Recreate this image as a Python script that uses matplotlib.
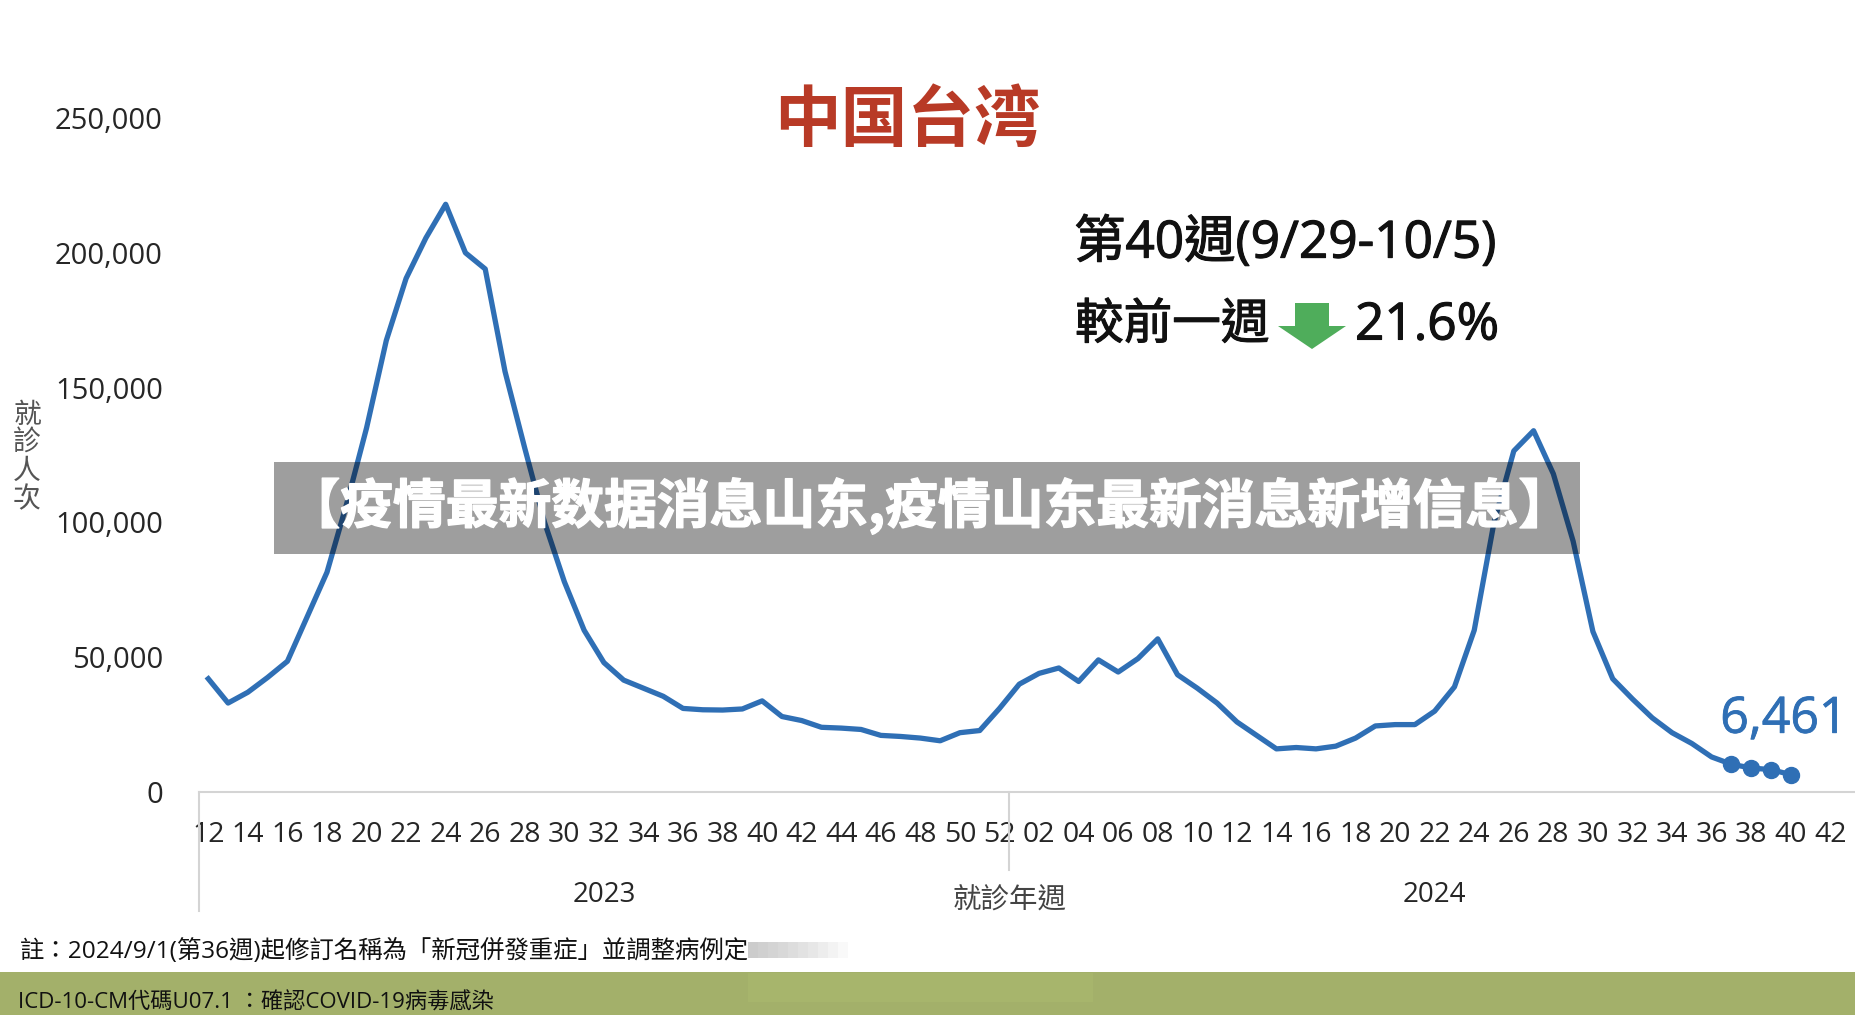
import matplotlib
matplotlib.use("Agg")
import matplotlib.pyplot as plt
from matplotlib.patches import Rectangle, Polygon
import matplotlib.patheffects as pe

plt.rcParams['font.family'] = ['Open Sans', 'Noto Sans CJK TC', 'DejaVu Sans']

W, H = 1856, 1016

weeks = ['12','13','14','15','16','17','18','19','20','21','22','23','24','25','26','27','28','29','30','31',
         '32','33','34','35','36','37','38','39','40','41','42','43','44','45','46','47','48','49','50','51','52',
         '01','02','03','04','05','06','07','08','09','10','11','12','13','14','15','16','17','18','19','20','21',
         '22','23','24','25','26','27','28','29','30','31','32','33','34','35','36','37','38','39','40','41','42']

# visits per week, 2023 wk12 to 2024 wk40
visits = [42000, 33000, 37000, 42500, 48500, 65000, 81500, 107000, 135000, 167500, 190500, 205500, 218000,
          200000, 194000, 156000, 127500, 100000, 78000, 60000, 48000, 41500, 38500, 35500, 31000, 30500,
          30400, 30800, 33800, 28000, 26500, 24000, 23700, 23200, 21000, 20600, 20000, 19000, 22000, 22800,
          31000, 40000, 44000, 46000, 41000, 49000, 44500, 49500, 56800, 43500, 38500, 33000, 26000, 21000,
          16000, 16500, 16000, 17000, 20000, 24500, 25000, 25000, 30000, 39000, 60000, 100000, 126500, 134000,
          118000, 93000, 59500, 42000, 34500, 27500, 22000, 18000, 13000, 10300, 8900, 8300, 6461]
last_weeks = 4

yticks = [0, 50000, 100000, 150000, 200000, 250000]
title = '中国台湾'
banner = '【疫情最新数据消息山东,疫情山东最新消息新增信息】'
note1 = '註：2024/9/1(第36週)起修訂名稱為「新冠併發重症」並調整病例定'
note2 = 'ICD-10-CM代碼U07.1 ：確認COVID-19病毒感染'

blue = '#2f6fb5'
grey = '#d4d4d4'
txt = '#262626'
dark = [pe.withStroke(linewidth=0.8, foreground='#111111')]

fig = plt.figure(figsize=(W/100, H/100), dpi=100)
ax = fig.add_axes([199/W, (H-792)/H, (W-199)/W, (792-118)/H])
x = list(range(len(visits)))
ax.plot(x, visits, color=blue, lw=3.8, solid_joinstyle='round')
ax.plot(x[-last_weeks:], visits[-last_weeks:], 'o', color=blue, ms=11.5)
ax.set_xlim(-0.47, 83.3)
ax.set_ylim(0, 250000)
for s in ['top', 'right', 'left']:
    ax.spines[s].set_visible(False)
ax.spines['bottom'].set_color(grey)
ax.spines['bottom'].set_linewidth(1.5)
ax.set_yticks(yticks)
ax.set_yticklabels(['{:,}'.format(v) for v in yticks], fontsize=21, color=txt)
ax.tick_params(axis='y', length=0, pad=26)
ax.set_xticks(list(range(0, len(weeks), 2)))
ax.set_xticklabels(weeks[0::2], fontsize=20.5, color=txt)
ax.tick_params(axis='x', length=0, pad=21)

# overlay in pixel coords
ov = fig.add_axes([0, 0, 1, 1], facecolor='none')
ov.set_xlim(0, W)
ov.set_ylim(H, 0)
ov.axis('off')

ov.plot([199, 199], [792, 911], color=grey, lw=1.5)
ov.plot([1009, 1009], [792, 870], color=grey, lw=1.5)

ov.text(907, 123, title, color='#b83a26', fontsize=48, fontweight='bold', ha='center', va='center')
ov.text(1074, 244, '第40週(9/29-10/5)', color='#111111', fontsize=37, ha='left', va='center', path_effects=dark)
ov.text(1075, 326, '較前一週', color='#111111', fontsize=35, ha='left', va='center', path_effects=dark)
ov.text(1355, 326, '21.6%', color='#111111', fontsize=37, ha='left', va='center', path_effects=dark)
ov.add_patch(Polygon([(1295, 303), (1329, 303), (1329, 326), (1346, 326), (1312, 349), (1278, 326), (1295, 326)],
                     closed=True, color='#4fad5b', lw=0))
ov.text(1784, 720, '6,461', color=blue, fontsize=36, ha='center', va='center',
        path_effects=[pe.withStroke(linewidth=0.6, foreground=blue)])

ov.text(27, 458, '就\n診\n人\n次', color='#555555', fontsize=20, ha='center', va='center', linespacing=1.0)
ov.text(604, 895, '2023', color=txt, fontsize=20, ha='center', va='center')
ov.text(1434, 895, '2024', color=txt, fontsize=20, ha='center', va='center')
ov.text(1010, 902, '就診年週', color='#444444', fontsize=20.5, ha='center', va='center')

# footer
ov.add_patch(Rectangle((0, 972), W, 43, color='#a3b06a', lw=0))
ov.text(20, 951, note1, color='#111111', fontsize=17.6, ha='left', va='center')
ov.text(18, 1003, note2, color='#111111', fontsize=16, ha='left', va='center')
# smudged patch over the end of the note
ov.add_patch(Rectangle((748, 930), 345, 42, color='white', lw=0))
for w in range(10, 110, 10):
    ov.add_patch(Rectangle((748, 942), w, 16, color='#8a8a8a', alpha=0.05, lw=0))
ov.add_patch(Rectangle((748, 973), 345, 29, color='#a7b56c', lw=0))

# banner across the chart
ov.add_patch(Rectangle((274, 462), 1306, 92, color='black', alpha=0.38, lw=0))
ov.text(929, 506, banner, color='white', fontsize=38, fontweight='bold', ha='center', va='center',
        family=['Noto Sans CJK SC', 'DejaVu Sans'],
        path_effects=[pe.withStroke(linewidth=1.0, foreground='white')])

fig.savefig('out.png', dpi=100)
